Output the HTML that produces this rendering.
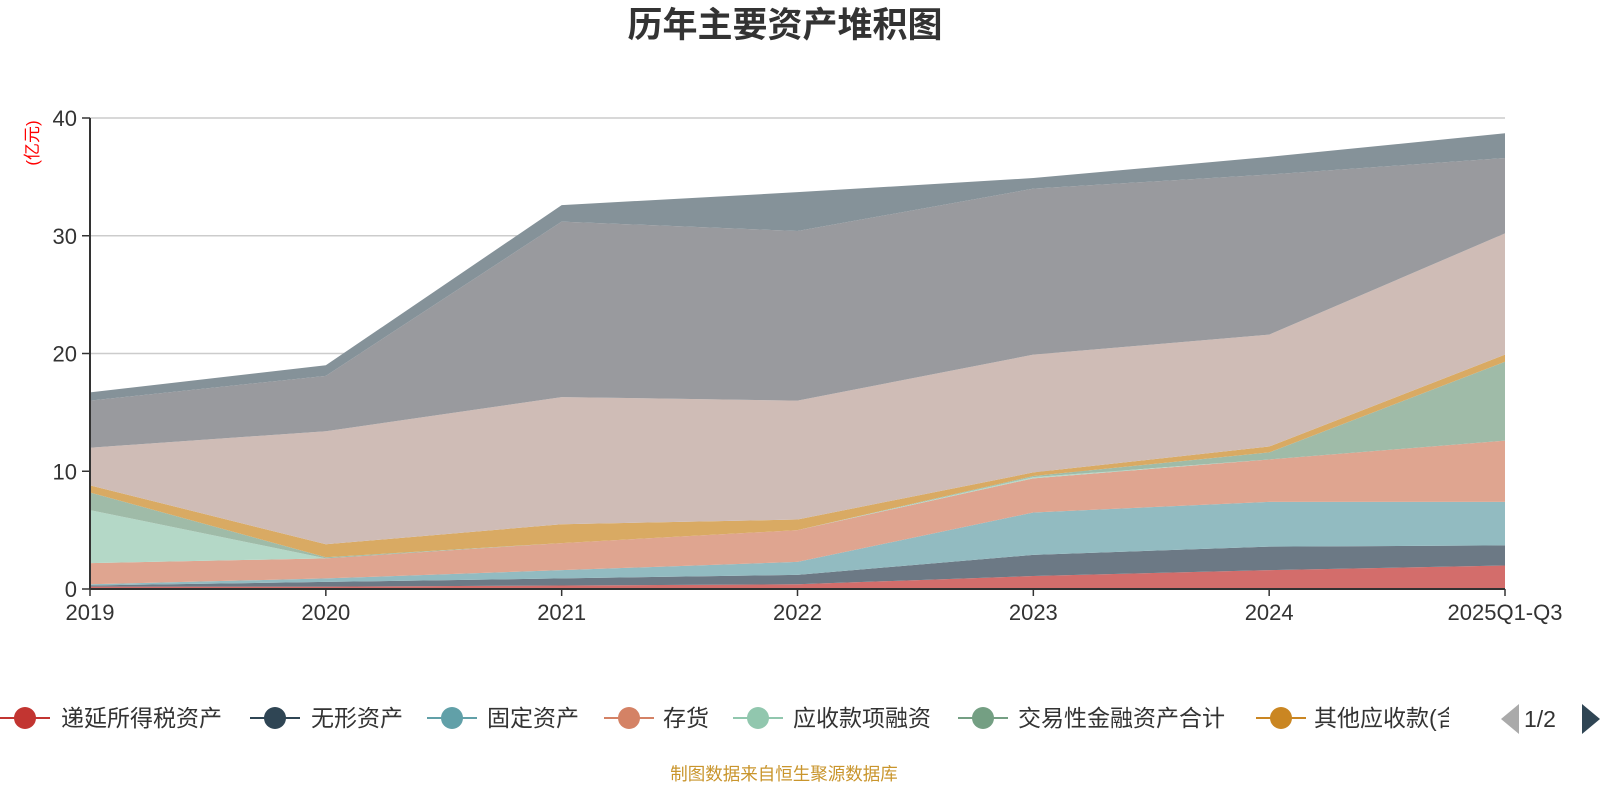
<!DOCTYPE html>
<html><head><meta charset="utf-8">
<style>
html,body{margin:0;padding:0;background:#fff;width:1600px;height:800px;overflow:hidden}
svg text{font-family:"Liberation Sans","Noto Sans CJK SC",sans-serif}
</style></head>
<body>
<svg id="chart" width="1600" height="800" xmlns="http://www.w3.org/2000/svg">
<text x="785" y="37" text-anchor="middle" font-size="35" font-weight="bold" fill="#333">历年主要资产堆积图</text>
<text transform="translate(38,143) rotate(-90)" text-anchor="middle" font-size="17" fill="#f00">(亿元)</text>
<g id="grid"></g>
<g id="areas"></g>
<g id="axes"></g>
<g id="legend"></g>
<text x="784" y="780" text-anchor="middle" font-size="17.5" fill="#c9952c">制图数据来自恒生聚源数据库</text>
</svg>
<script>
const categories = ["2019","2020","2021","2022","2023","2024","2025Q1-Q3"];
const seriesNames = ["递延所得税资产","无形资产","固定资产","存货","应收款项融资","交易性金融资产合计","其他应收款(含利息和股利)","应收账款","货币资金","其他"];
const s1 = [0.2,0.2,0.3,0.4,1.1,1.6,2.0];
const s2 = [0.1,0.4,0.6,0.8,1.8,2.0,1.7];
const s3 = [0.1,0.3,0.7,1.1,3.6,3.8,3.7];
const s4 = [1.8,1.7,2.3,2.7,2.9,3.6,5.2];
const s5 = [4.5,0.0,0.0,0.0,0.1,0.0,0.0];
const s6 = [1.5,0.1,0.0,0.0,0.1,0.6,6.7];
const s7 = [0.6,1.1,1.6,0.9,0.3,0.5,0.6];
const s8 = [3.2,9.6,10.8,10.1,10.0,9.5,10.3];
const s9 = [4.0,4.7,14.9,14.4,14.1,13.6,6.4];
const s10 = [0.7,0.9,1.4,3.3,0.9,1.5,2.1];
const yTicks = [0,10,20,30,40];
const allSeries = [s1,s2,s3,s4,s5,s6,s7,s8,s9,s10];
const fills = ["#d36d6b","#6c7985","#92bbc1","#dfa590","#b4d8c7","#9fbba8","#d9aa63","#cfbcb6","#999a9e","#859299"];
const legendColors = ["#c23531","#2f4554","#61a0a8","#d48265","#91c7ae","#749f83","#ca8622"];
const NS="http://www.w3.org/2000/svg";
const x0=90,x1=1505,yb=589,yt=118,ymax=40;
function xs(i){return x0+(x1-x0)*i/(categories.length-1);}
function ys(v){return yb-(yb-yt)*v/ymax;}
function mk(tag,attrs,parent){const e=document.createElementNS(NS,tag);for(const k in attrs)e.setAttribute(k,attrs[k]);parent.appendChild(e);return e;}
const grid=document.getElementById('grid'),areas=document.getElementById('areas'),axes=document.getElementById('axes'),legend=document.getElementById('legend');
yTicks.forEach(t=>{
  if(t>0){const l=mk('line',{x1:x0,x2:x1,y1:ys(t),y2:ys(t),stroke:'#ccc','stroke-width':1.5},grid);
  
  }
  const tx=mk('text',{x:77,y:ys(t)+8,'text-anchor':'end','font-size':22,fill:'#333'},axes);tx.textContent=t;
  
  
  mk('line',{x1:82,x2:x0,y1:ys(t),y2:ys(t),stroke:'#333','stroke-width':1.5},axes);
});
let base=categories.map(()=>0);
allSeries.forEach((s,si)=>{
  const top=s.map((v,i)=>base[i]+v);
  let d='M'+categories.map((c,i)=>xs(i)+','+ys(top[i])).join('L');
  for(let i=categories.length-1;i>=0;i--)d+='L'+xs(i)+','+ys(base[i]);
  d+='Z';
  const p=mk('path',{d:d,fill:fills[si]},areas);
  
  
  base=top;
});
mk('line',{x1:x0,x2:x0,y1:yt,y2:yb,stroke:'#333','stroke-width':2},axes);
mk('line',{x1:x0,x2:x1,y1:yb,y2:yb,stroke:'#333','stroke-width':2},axes);
categories.forEach((c,i)=>{
  mk('line',{x1:xs(i),x2:xs(i),y1:yb,y2:yb+7,stroke:'#333','stroke-width':1.5},axes);
  const t=mk('text',{x:xs(i),y:620,'text-anchor':'middle','font-size':22,fill:'#333'},axes);t.textContent=c;
  
  
});
const defs=mk('defs',{},document.getElementById('chart'));
const cp=mk('clipPath',{id:'lc'},defs);mk('rect',{x:1300,y:690,width:149,height:50},cp);
const lx=[0,250,427,604,733,958,1256],tx=[61,311,487,663,793,1018,1314];
for(let i=0;i<7;i++){
  const g=mk('g',{},legend);
  
  
  mk('line',{x1:lx[i],x2:lx[i]+50,y1:718,y2:718,stroke:legendColors[i],'stroke-width':2},g);
  mk('circle',{cx:lx[i]+25,cy:718,r:11,fill:legendColors[i]},g);
  const t=mk('text',{x:tx[i],y:726,'font-size':23,fill:'#333'},g);t.textContent=seriesNames[i];
  if(i===6){t.textContent='其他应收款(含利';t.setAttribute('clip-path','url(#lc)');}
}
const pl=mk('path',{d:'M1501,719L1519,704L1519,734Z',fill:'#aaa'},legend);


const pg=mk('text',{x:1540,y:727,'font-size':23,fill:'#333','text-anchor':'middle'},legend);pg.textContent='1/2';


const pn=mk('path',{d:'M1600,719L1582,704L1582,734Z',fill:'#2f4554'},legend);


</script>
</body></html>
